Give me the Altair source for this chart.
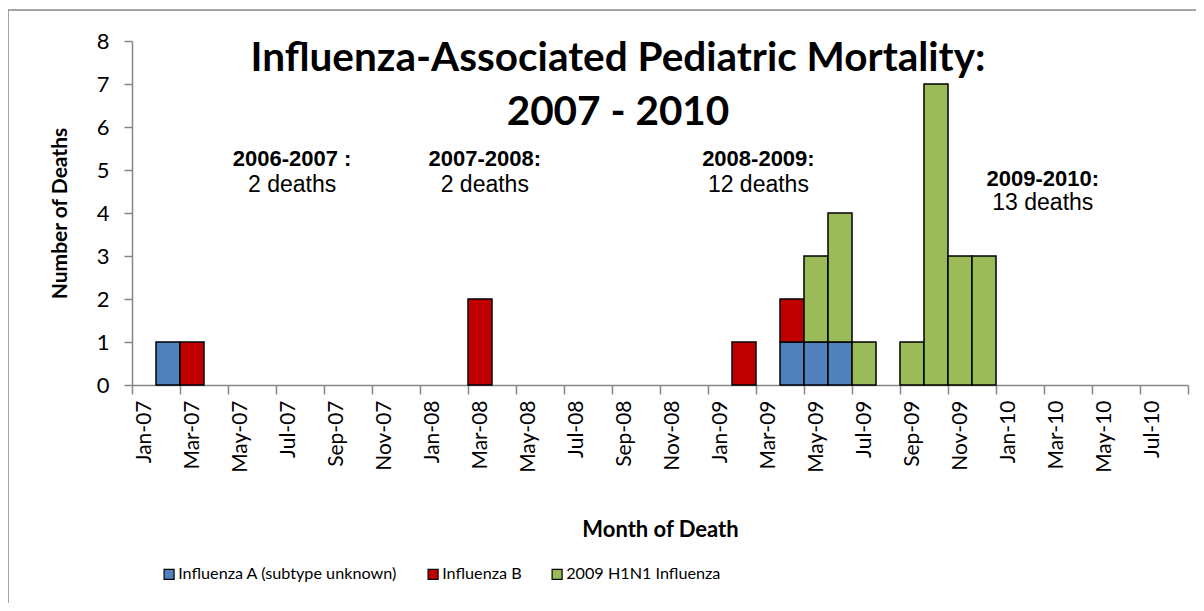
import altair as alt
import pandas as pd

month_abbr = ["Jan", "Feb", "Mar", "Apr", "May", "Jun", "Jul", "Aug", "Sep", "Oct", "Nov", "Dec"]
months = [f"{m}-{y:02d}" for y in (7, 8, 9, 10) for m in month_abbr][:44]

series_names = ["Influenza A (subtype unknown)", "Influenza B", "2009 H1N1 Influenza"]
series_colors = ["#4F81BD", "#C00000", "#9BBB59"]

influenza_a = [0, 1, 0, 0, 0, 0, 0, 0, 0, 0, 0, 0,
               0, 0, 0, 0, 0, 0, 0, 0, 0, 0, 0, 0,
               0, 0, 0, 1, 1, 1, 0, 0, 0, 0, 0, 0,
               0, 0, 0, 0, 0, 0, 0, 0]
influenza_b = [0, 0, 1, 0, 0, 0, 0, 0, 0, 0, 0, 0,
               0, 0, 2, 0, 0, 0, 0, 0, 0, 0, 0, 0,
               0, 1, 0, 1, 0, 0, 0, 0, 0, 0, 0, 0,
               0, 0, 0, 0, 0, 0, 0, 0]
h1n1 = [0, 0, 0, 0, 0, 0, 0, 0, 0, 0, 0, 0,
        0, 0, 0, 0, 0, 0, 0, 0, 0, 0, 0, 0,
        0, 0, 0, 0, 2, 3, 1, 0, 1, 7, 3, 3,
        0, 0, 0, 0, 0, 0, 0, 0]

title_lines = ["Influenza-Associated Pediatric Mortality:", "2007 - 2010"]
title_x = [20.25, 20.25]
title_y = [7.31, 6.05]

season_titles = ["2006-2007 :", "2007-2008:", "2008-2009:", "2009-2010:"]
season_deaths = ["2 deaths", "2 deaths", "12 deaths", "13 deaths"]
season_x = [6.67, 14.7, 26.1, 37.95]
season_y = [5.1, 5.1, 5.1, 4.63]
season_y2 = [4.5, 4.5, 4.5, 4.08]

rows = []
for order, (name, vals) in enumerate(zip(series_names, [influenza_a, influenza_b, h1n1])):
    for i, v in enumerate(vals):
        if v > 0:
            rows.append({"idx": i, "month": months[i], "series": name, "deaths": v, "order": order})
df = pd.DataFrame(rows)

label_list = "[" + ",".join(f"'{m}'" for m in months) + "]"
label_expr = f"datum.value < 44 ? {label_list}[datum.value] : ''"

xscale = alt.Scale(domain=[0, 44], nice=False, zero=False)
yscale = alt.Scale(domain=[0, 8], nice=False)

x_axis = alt.Axis(
    values=list(range(0, 45, 2)), labelExpr=label_expr, labelAngle=270,
    labelAlign="right", labelBaseline="middle", labelOffset=12,
    labelFont="Lato", labelFontSize=21, labelColor="black", labelPadding=6,
    tickSize=9, tickColor="#868686", domainColor="#868686", tickWidth=1.5, domainWidth=1.5,
    grid=False, title="Month of Death", titleFont="Lato", titleFontSize=22,
    titleFontWeight="bold", titleColor="black", titleY=144, titleBaseline="middle",
)
y_axis = alt.Axis(
    values=list(range(0, 9)), labelFont="Lato", labelFontSize=22, labelColor="black",
    labelPadding=15, tickSize=8, tickColor="#868686", domainColor="#868686",
    tickWidth=1.5, domainWidth=1.5, grid=False, title="Number of Deaths",
    titleFont="Lato", titleFontSize=21, titleFontWeight="bold", titleColor="black",
    titleX=-72, titleY=172, titleAngle=270, titleBaseline="middle",
)

bars = alt.Chart(df).transform_stack(
    stack="deaths", groupby=["idx"], as_=["y0", "y1"], sort=[alt.SortField("order")]
).transform_calculate(idx_end="datum.idx + 1").mark_bar(
    stroke="black", strokeWidth=1.5
).encode(
    x=alt.X("idx:Q", scale=xscale, axis=x_axis),
    x2="idx_end:Q",
    y=alt.Y("y0:Q", scale=yscale, axis=y_axis),
    y2="y1:Q",
    color=alt.Color(
        "series:N",
        scale=alt.Scale(domain=series_names, range=series_colors),
        legend=alt.Legend(
            orient="none", legendX=29, legendY=525, direction="horizontal", title=None,
            symbolType="square", symbolSize=100, symbolStrokeColor="black",
            symbolStrokeWidth=1.2, labelFont="Lato", labelFontSize=16.2, labelColor="black",
            columnPadding=27, labelOffset=1, labelLimit=0,
        ),
    ),
)

title_df = pd.DataFrame({"line": title_lines, "tx": title_x, "ty": title_y})
title_text = alt.Chart(title_df).mark_text(
    font="Lato", fontSize=40.5, fontWeight="bold", align="center", baseline="alphabetic", color="black"
).encode(
    x=alt.X("tx:Q", scale=xscale),
    y=alt.Y("ty:Q", scale=yscale),
    text="line:N",
)

season_df = pd.DataFrame({"t": season_titles, "d": season_deaths, "sx": season_x, "sy": season_y, "sy2": season_y2})
season_bold = alt.Chart(season_df).mark_text(
    font="Liberation Sans", fontSize=22, fontWeight="bold", align="center", baseline="alphabetic", color="black"
).encode(
    x=alt.X("sx:Q", scale=xscale),
    y=alt.Y("sy:Q", scale=yscale),
    text="t:N",
)
season_reg = alt.Chart(season_df).mark_text(
    font="Liberation Sans", fontSize=23, align="center", baseline="alphabetic", color="black"
).encode(
    x=alt.X("sx:Q", scale=xscale),
    y=alt.Y("sy2:Q", scale=yscale),
    text="d:N",
)

frame_df = pd.DataFrame({"k": [0]})
frame_left = alt.Chart(frame_df).mark_rule(color="#868686", strokeWidth=1.5).encode(
    x=alt.value(-124), y=alt.value(-31), y2=alt.value(600)
)
frame_top = alt.Chart(frame_df).mark_rule(color="#868686", strokeWidth=1.5).encode(
    x=alt.value(-124), x2=alt.value(1100), y=alt.value(-31)
)

chart = alt.layer(bars, title_text, season_bold, season_reg, frame_left, frame_top).properties(
    width=1056, height=344,
    autosize=alt.AutoSizeParams(type="none"),
    padding={"left": 124, "top": 33, "right": 8, "bottom": 218},
).configure_view(stroke=None)

chart.save("out.html", embed_options={"renderer": "svg", "actions": False})
